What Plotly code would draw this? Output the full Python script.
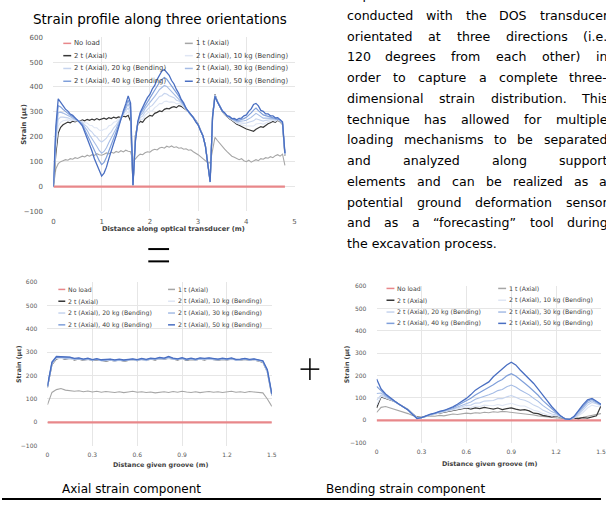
import plotly.graph_objects as go

# ---------------- data ----------------
SERIES_NAMES = ["No load", "1 t (Axial)", "2 t (Axial)",
                "2 t (Axial), 10 kg (Bending)", "2 t (Axial), 20 kg (Bending)",
                "2 t (Axial), 30 kg (Bending)", "2 t (Axial), 40 kg (Bending)",
                "2 t (Axial), 50 kg (Bending)"]

# Top chart: strain profile along three orientations (distance in m, strain in microstrain)
TOP_DIST = [0.00, 0.05, 0.10, 0.15, 0.20, 0.25, 0.30, 0.35, 0.40, 0.45,
            0.50, 0.55, 0.60, 0.65, 0.70, 0.75, 0.80, 0.85, 0.90, 0.95,
            1.00, 1.05, 1.10, 1.15, 1.20, 1.25, 1.30, 1.35, 1.40, 1.45,
            1.50, 1.55, 1.60, 1.65, 1.70, 1.75, 1.80, 1.85, 1.90, 1.95,
            2.00, 2.05, 2.10, 2.15, 2.20, 2.25, 2.30, 2.35, 2.40, 2.45,
            2.50, 2.55, 2.60, 2.65, 2.70, 2.75, 2.80, 2.85, 2.90, 2.95,
            3.00, 3.05, 3.10, 3.15, 3.20, 3.25, 3.30, 3.35, 3.40, 3.45,
            3.50, 3.55, 3.60, 3.65, 3.70, 3.75, 3.80, 3.85, 3.90, 3.95,
            4.00, 4.05, 4.10, 4.15, 4.20, 4.25, 4.30, 4.35, 4.40, 4.45,
            4.50, 4.55, 4.60, 4.65, 4.70, 4.75, 4.80]
TOP_NO_LOAD_DIST = [0.0, 4.8]
TOP_NO_LOAD = [0, 0]
TOP_1T = [0, 70, 92, 100, 104, 108, 106, 112, 110, 116,
          113, 118, 122, 119, 126, 122, 128, 125, 132, 128,
          126, 130, 135, 131, 138, 134, 141, 137, 144, 139,
          146, 142, 140, 100, 112, 122, 130, 128, 136, 140,
          138, 146, 150, 147, 155, 158, 154, 162, 158, 163,
          157, 160, 154, 156, 150, 152, 146, 148, 140, 135,
          128, 120, 112, 104, 96, 95, 150, 198, 185, 172,
          160, 150, 140, 132, 122, 118, 112, 108, 112, 104,
          100, 106, 98, 104, 108, 104, 112, 110, 116, 114,
          120, 116, 124, 128, 122, 130, 85]
TOP_2T = [0, 130, 215, 238, 248, 255, 259, 256, 263, 260,
          266, 262, 268, 264, 270, 266, 271, 267, 273, 268,
          271, 275, 270, 277, 273, 279, 275, 280, 277, 283,
          280, 286, 262, 4, 205, 250, 262, 258, 272, 280,
          286, 283, 294, 298, 304, 301, 310, 314, 312, 318,
          321, 317, 325, 322, 316, 308, 300, 290, 280, 266,
          250, 228, 204, 166, 102, 22, 285, 370, 342, 318,
          302, 290, 280, 272, 266, 257, 250, 246, 240, 236,
          231, 228, 225, 222, 230, 236, 241, 238, 247, 252,
          256, 262, 258, 266, 260, 250, 125]
TOP_10KG = [0, 152, 242, 258, 264, 267, 268, 263, 267, 263,
            266, 261, 263, 256, 255, 246, 245, 236, 236, 227,
            225, 230, 232, 244, 247, 258, 261, 272, 276, 287,
            291, 301, 277, 4, 200, 252, 270, 270, 286, 295,
            303, 304, 317, 324, 333, 333, 342, 343, 339, 340,
            339, 332, 334, 328, 320, 310, 300, 290, 279, 265,
            249, 228, 204, 166, 102, 21, 284, 368, 342, 319,
            303, 291, 281, 274, 268, 260, 254, 251, 247, 245,
            243, 242, 243, 243, 251, 253, 254, 250, 256, 260,
            262, 266, 262, 268, 262, 252, 127]
TOP_20KG = [0, 174, 270, 279, 279, 278, 276, 271, 272, 267,
            267, 260, 258, 247, 240, 227, 219, 206, 199, 186,
            179, 186, 194, 210, 220, 236, 247, 263, 274, 291,
            302, 316, 291, 5, 195, 254, 277, 283, 299, 310,
            320, 326, 340, 350, 362, 365, 374, 372, 365, 362,
            357, 347, 344, 334, 323, 311, 300, 289, 278, 264,
            248, 227, 203, 166, 101, 20, 283, 367, 342, 320,
            304, 292, 282, 275, 270, 263, 258, 256, 254, 254,
            255, 257, 261, 264, 272, 270, 268, 263, 266, 267,
            268, 270, 266, 270, 264, 253, 129]
TOP_30KG = [0, 196, 297, 299, 295, 290, 285, 278, 276, 270,
            267, 260, 253, 239, 226, 207, 193, 175, 162, 145,
            134, 141, 156, 177, 194, 215, 233, 255, 273, 294,
            312, 332, 306, 5, 190, 256, 285, 295, 313, 325,
            338, 347, 362, 376, 390, 398, 406, 402, 392, 384,
            374, 362, 353, 340, 327, 313, 300, 289, 278, 264,
            248, 227, 203, 165, 101, 20, 282, 365, 342, 320,
            304, 293, 284, 277, 271, 266, 262, 262, 262, 264,
            266, 271, 278, 286, 294, 288, 281, 275, 275, 275,
            274, 274, 270, 271, 266, 255, 131]
TOP_40KG = [0, 218, 325, 320, 310, 301, 293, 286, 281, 274,
            268, 259, 248, 230, 211, 188, 167, 145, 125, 104,
            88, 97, 118, 143, 167, 193, 219, 246, 271, 298,
            323, 347, 320, 6, 185, 258, 292, 308, 326, 340,
            355, 369, 385, 402, 419, 430, 438, 431, 418, 406,
            392, 377, 363, 346, 330, 314, 300, 288, 277, 263,
            247, 226, 202, 165, 100, 19, 281, 364, 342, 321,
            305, 294, 285, 278, 273, 269, 266, 267, 269, 273,
            278, 286, 296, 307, 315, 305, 295, 288, 285, 282,
            280, 278, 274, 273, 268, 256, 133]
TOP_50KG = [0, 240, 352, 338, 327, 311, 303, 291, 286, 276,
            269, 256, 244, 220, 198, 166, 143, 112, 90, 61,
            42, 54, 78, 112, 139, 174, 203, 240, 268, 304,
            332, 364, 335, 6, 180, 262, 298, 322, 338, 357,
            370, 392, 406, 430, 446, 464, 470, 458, 447, 426,
            412, 390, 374, 350, 336, 314, 302, 286, 278, 260,
            248, 224, 204, 163, 100, 18, 280, 362, 340, 324,
            304, 297, 284, 282, 273, 274, 268, 274, 275, 284,
            288, 302, 312, 330, 334, 324, 306, 302, 292, 292,
            284, 284, 276, 277, 268, 260, 135]

# Bottom charts: distance along the groove (m)
GROOVE_DIST = [0.00, 0.03, 0.06, 0.09, 0.12, 0.15, 0.18, 0.21, 0.24, 0.27,
               0.30, 0.33, 0.36, 0.39, 0.42, 0.45, 0.48, 0.51, 0.54, 0.57,
               0.60, 0.63, 0.66, 0.69, 0.72, 0.75, 0.78, 0.81, 0.84, 0.87,
               0.90, 0.93, 0.96, 0.99, 1.02, 1.05, 1.08, 1.11, 1.14, 1.17,
               1.20, 1.23, 1.26, 1.29, 1.32, 1.35, 1.38, 1.41, 1.44, 1.47,
               1.50]
GROOVE_NO_LOAD_DIST = [0.0, 1.5]
GROOVE_NO_LOAD = [0, 0]

# Axial strain component
AX_1T = [75, 128, 140, 145, 138, 136, 133, 135, 131, 134,
         130, 133, 129, 132, 130, 128, 131, 127, 130, 133,
         129, 131, 128, 130, 126, 129, 131, 128, 132, 129,
         133, 130, 128, 131, 127, 130, 132, 129, 131, 128,
         130, 133, 129, 131, 128, 132, 130, 128, 126, 100,
         68]
AX_2T = [150, 248, 272, 276, 270, 274, 268, 271, 266, 270,
         264, 268, 265, 262, 266, 263, 267, 262, 265, 268,
         264, 270, 266, 271, 268, 273, 270, 275, 271, 268,
         272, 266, 270, 267, 271, 268, 272, 269, 266, 270,
         267, 271, 268, 266, 270, 265, 268, 263, 258, 215,
         115]
AX_10KG = [152, 250, 274, 275, 272, 271, 269, 273, 267, 268,
           266, 270, 263, 264, 267, 265, 264, 263, 267, 266,
           266, 268, 268, 269, 270, 271, 272, 273, 270, 270,
           270, 268, 268, 269, 269, 270, 270, 268, 268, 268,
           269, 270, 267, 268, 268, 267, 266, 264, 260, 212,
           114]
AX_20KG = [148, 252, 276, 278, 273, 275, 270, 272, 268, 271,
           265, 269, 266, 264, 268, 262, 266, 264, 266, 270,
           266, 268, 264, 270, 269, 272, 271, 277, 270, 270,
           273, 268, 271, 266, 272, 270, 271, 268, 267, 271,
           268, 272, 266, 267, 271, 266, 269, 265, 259, 218,
           117]
AX_30KG = [155, 256, 278, 280, 274, 276, 271, 270, 269, 272,
           267, 270, 264, 266, 268, 264, 268, 265, 267, 269,
           265, 271, 267, 272, 270, 274, 272, 278, 272, 269,
           274, 267, 272, 268, 273, 271, 273, 270, 268, 272,
           269, 273, 267, 268, 272, 267, 270, 266, 261, 220,
           118]
AX_40KG = [152, 254, 280, 279, 276, 278, 272, 274, 270, 273,
           268, 271, 266, 268, 270, 266, 269, 266, 268, 271,
           267, 272, 268, 273, 271, 276, 273, 280, 273, 271,
           275, 269, 273, 269, 274, 272, 275, 271, 270, 273,
           270, 274, 268, 270, 273, 268, 271, 267, 262, 222,
           120]
AX_50KG = [156, 258, 282, 281, 277, 279, 274, 276, 271, 275,
           269, 273, 268, 270, 271, 268, 271, 267, 270, 272,
           269, 274, 270, 275, 273, 278, 275, 282, 275, 272,
           277, 271, 275, 271, 276, 274, 276, 273, 271, 275,
           272, 276, 270, 271, 274, 270, 272, 268, 264, 225,
           122]

# Bending strain component
BEND_1T = [35, 58, 62, 56, 48, 42, 36, 30, 22, 16,
           15, 18, 20, 18, 22, 20, 25, 28, 26, 30,
           32, 30, 34, 32, 36, 34, 38, 36, 40, 38,
           36, 34, 30, 28, 26, 24, 20, 18, 15, 12,
           10, 8, 6, 5, 8, 10, 14, 18, 22, 28,
           30]
BEND_2T = [55, 105, 98, 92, 84, 72, 60, 48, 30, 14,
           12, 18, 24, 30, 32, 36, 40, 44, 48, 52,
           55, 50, 56, 52, 58, 54, 50, 55, 48, 52,
           56, 50, 46, 48, 42, 32, 30, 22, 18, 15,
           20, 14, 8, 6, 10, 8, 12, 10, 16, 20,
           65]
BEND_10KG = [68, 108, 100, 93, 84, 72, 60, 48, 30, 13,
             12, 18, 24, 30, 33, 37, 41, 46, 50, 55,
             59, 57, 64, 62, 68, 66, 65, 71, 66, 72,
             76, 70, 64, 64, 56, 45, 41, 31, 25, 20,
             22, 15, 8, 6, 11, 20, 35, 55, 68, 62,
             66]
BEND_20KG = [90, 114, 103, 94, 85, 72, 60, 47, 29, 12,
             12, 19, 25, 31, 34, 39, 43, 48, 54, 61,
             67, 68, 77, 78, 86, 87, 89, 97, 97, 105,
             111, 103, 94, 90, 81, 68, 60, 46, 37, 28,
             25, 16, 7, 5, 12, 25, 45, 68, 80, 72,
             67]
BEND_30KG = [120, 122, 108, 96, 85, 72, 60, 47, 28, 11,
             12, 19, 25, 31, 36, 41, 46, 52, 60, 68,
             76, 82, 94, 100, 109, 114, 122, 133, 138, 150,
             158, 149, 136, 126, 114, 98, 85, 67, 53, 39,
             30, 17, 7, 5, 14, 32, 55, 78, 88, 78,
             68]
BEND_40KG = [152, 131, 113, 98, 86, 72, 60, 46, 27, 10,
             12, 20, 26, 32, 38, 44, 49, 56, 66, 76,
             87, 99, 113, 124, 134, 145, 159, 173, 183, 199,
             209, 198, 180, 166, 149, 132, 112, 89, 70, 50,
             35, 18, 6, 4, 16, 40, 63, 85, 94, 82,
             70]
BEND_50KG = [185, 140, 118, 100, 86, 72, 60, 46, 26, 8,
             12, 20, 28, 32, 40, 44, 52, 60, 72, 84,
             98, 115, 135, 148, 160, 172, 195, 212, 228, 248,
             260, 248, 225, 205, 185, 165, 140, 112, 88, 62,
             40, 20, 6, 4, 18, 45, 70, 92, 98, 85,
             72]

Y_TICKS = [-100, 0, 100, 200, 300, 400, 500, 600]
TOP_X_TICKS = [0, 1, 2, 3, 4, 5]
GROOVE_X_TICKS = [0, 0.3, 0.6, 0.9, 1.2, 1.5]
GROOVE_X_LABELS = ["0", "0.3", "0.6", "0.9", "1.2", "1.5"]

PARAGRAPH = [
    "Experiments were also",
    "conducted with the DOS transducer",
    "orientated at three directions (i.e.",
    "120 degrees from each other) in",
    "order to capture a complete three-",
    "dimensional strain distribution. This",
    "technique has allowed for multiple",
    "loading mechanisms to be separated",
    "and analyzed along support",
    "elements and can be realized as a",
    "potential ground deformation sensor",
    "and as a “forecasting” tool during",
    "the excavation process.",
]

# ---------------- styling ----------------
W, H = 606, 506
FONT = "DejaVu Sans"
COLORS = ["#e8878a", "#a6a6a6", "#383838", "#dfe6f4", "#c6d4ee",
          "#a5bce5", "#7f9fda", "#4a6fc2"]
WIDTHS = [2.2, 1.1, 1.2, 1.1, 1.1, 1.1, 1.2, 1.3]


def px(x):
    return x / W


def py(y):
    return 1 - y / H


fig = go.Figure()


def add_chart(xs_list, ys_list, xa, ya):
    for i, (xs, ys) in enumerate(zip(xs_list, ys_list)):
        fig.add_trace(go.Scatter(
            x=xs, y=ys, mode="lines", name=SERIES_NAMES[i],
            line=dict(color=COLORS[i], width=WIDTHS[i]),
            xaxis=xa, yaxis=ya, showlegend=False, hoverinfo="skip"))


add_chart([TOP_NO_LOAD_DIST] + [TOP_DIST] * 7,
          [TOP_NO_LOAD, TOP_1T, TOP_2T, TOP_10KG, TOP_20KG, TOP_30KG, TOP_40KG, TOP_50KG],
          "x", "y")
add_chart([GROOVE_NO_LOAD_DIST] + [GROOVE_DIST] * 7,
          [GROOVE_NO_LOAD, AX_1T, AX_2T, AX_10KG, AX_20KG, AX_30KG, AX_40KG, AX_50KG],
          "x2", "y2")
add_chart([GROOVE_NO_LOAD_DIST] + [GROOVE_DIST] * 7,
          [GROOVE_NO_LOAD, BEND_1T, BEND_2T, BEND_10KG, BEND_20KG, BEND_30KG, BEND_40KG, BEND_50KG],
          "x3", "y3")


def axis(domain, rng, tickvals, anchor, size, ticklen, ticktext=None):
    d = dict(domain=domain, range=rng, tickmode="array", tickvals=tickvals,
             anchor=anchor, showgrid=True, gridcolor="#e6e6e6", gridwidth=1,
             zeroline=False, showline=False, ticks="outside", ticklen=ticklen,
             tickcolor="rgba(0,0,0,0)",
             tickfont=dict(family=FONT, size=size, color="#595959"))
    if ticktext is not None:
        d["ticktext"] = ticktext
    return d


fig.update_layout(
    width=W, height=H, margin=dict(l=0, r=0, t=0, b=0),
    paper_bgcolor="white", plot_bgcolor="white", showlegend=False,
    xaxis=axis([px(52), px(296)], [0, 5], TOP_X_TICKS, "y", 7, 3),
    yaxis=axis([py(210.8), py(33.7)], [-100, 600], Y_TICKS, "x", 7, 8),
    xaxis2=axis([px(46), px(273)], [0, 1.5], GROOVE_X_TICKS, "y2", 6, 3, GROOVE_X_LABELS),
    yaxis2=axis([py(448.7), py(282.8)], [-100, 600], Y_TICKS, "x2", 6, 8),
    xaxis3=axis([px(379), 1.0], [0, 1.5], GROOVE_X_TICKS, "y3", 6, 3, GROOVE_X_LABELS),
    yaxis3=axis([py(445.7), py(286.8)], [-100, 600], Y_TICKS, "x3", 6, 8),
)

shapes = []
annots = []


def text(x, y, s, size, family=FONT, color="#000000", anchor="center", angle=0, bold=False):
    annots.append(dict(x=px(x), y=py(y), xref="paper", yref="paper",
                       text=("<b>%s</b>" % s) if bold else s,
                       showarrow=False, xanchor=anchor, yanchor="middle", textangle=angle,
                       font=dict(family=family, size=size, color=color)))


def hline(x0, x1, y, color, width):
    shapes.append(dict(type="line", xref="paper", yref="paper", x0=px(x0), x1=px(x1),
                       y0=py(y), y1=py(y), line=dict(color=color, width=width)))


def vline(x, y0, y1, color, width):
    shapes.append(dict(type="line", xref="paper", yref="paper", x0=px(x), x1=px(x),
                       y0=py(y0), y1=py(y1), line=dict(color=color, width=width)))


# chart titles and axis titles
text(160, 15, "Strain profile along three orientations", 13.5)
text(22, 122, "Strain (με)", 6.8, color="#404040", angle=-90, bold=True)
text(174, 229, "Distance along optical transducer (m)", 6.7, color="#404040", bold=True)
text(17, 366, "Strain (με)", 6.3, color="#404040", angle=-90, bold=True)
text(160, 468, "Distance given groove (m)", 6.4, color="#404040", bold=True)
text(349, 366, "Strain (με)", 6.3, color="#404040", angle=-90, bold=True)
text(493, 467, "Distance given groove (m)", 6.4, color="#404040", bold=True)
text(131, 493, "Axial strain component", 12)
text(408, 493, "Bending strain component", 12)

# manual two-column legends
LEGENDS = [
    dict(cols=[62, 185], rows=[40, 52.5, 65.5, 78.5], size=6.8, ln=8),
    dict(cols=[57, 168], rows=[290, 302, 314, 326], size=6.2, ln=7),
    dict(cols=[389, 502], rows=[289, 301, 313, 324.5], size=6.2, ln=8),
]
for leg in LEGENDS:
    for i, name in enumerate(SERIES_NAMES):
        r, c = divmod(i, 2)
        x0 = leg["cols"][c]
        y0 = leg["rows"][r]
        hline(x0, x0 + leg["ln"], y0, COLORS[i], 1.5)
        text(x0 + leg["ln"] + 1, y0, name, leg["size"], color="#404040", anchor="left")

# "=" and "+" and bottom rule
hline(148, 169, 249, "#000000", 2)
hline(148, 169, 261.5, "#000000", 2)
hline(302, 321, 371, "#000000", 1.5)
vline(311.5, 360, 382, "#000000", 1.5)
hline(0, 606, 503, "#000000", 2)

# justified paragraph, clipped at the right edge of the picture
CHAR_W = {'a': .613, 'b': .635, 'c': .550, 'd': .635, 'e': .615, 'f': .352, 'g': .635,
          'h': .634, 'i': .278, 'j': .278, 'k': .579, 'l': .278, 'm': .974, 'n': .634,
          'o': .612, 'p': .635, 'q': .635, 'r': .411, 's': .521, 't': .392, 'u': .634,
          'v': .592, 'w': .818, 'x': .592, 'y': .592, 'z': .525, 'A': .684, 'D': .770,
          'E': .632, 'O': .787, 'S': .635, 'T': .611, '.': .318, ',': .318, '(': .390,
          ')': .390, '-': .361, '“': .521, '”': .521, ' ': .318}
PARA_SIZE = 12.6
PARA_LEFT, PARA_RIGHT = 348.5, 611
for k, line in enumerate(PARAGRAPH):
    yc = -9.6 + 21.1 * k
    if k == 0 or k == len(PARAGRAPH) - 1:
        text(PARA_LEFT - 1, yc, line, PARA_SIZE, anchor="left")
        continue
    words = line.split(" ")
    widths = [sum(CHAR_W.get(ch, .6) for ch in w) * PARA_SIZE for w in words]
    gap = (PARA_RIGHT - PARA_LEFT - sum(widths)) / (len(words) - 1)
    xpos = PARA_LEFT
    for w, wd in zip(words, widths):
        text(xpos - 1, yc, w, PARA_SIZE, anchor="left")
        xpos += wd + gap

fig.update_layout(shapes=shapes, annotations=annots)
fig.write_html("out.html", config={"displayModeBar": False},
               post_script="document.body.style.margin='0px';document.body.style.overflow='hidden';")
